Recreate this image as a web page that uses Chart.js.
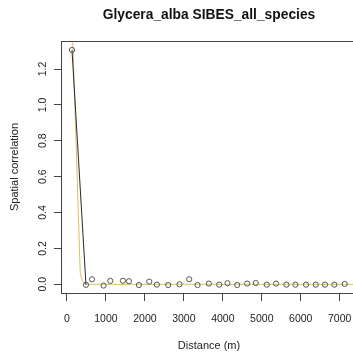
<!DOCTYPE html>
<html>
<head>
<meta charset="utf-8">
<script src="https://cdn.jsdelivr.net/npm/chart.js@4.4.1/dist/chart.umd.min.js"></script>
<style>
  html, body { margin: 0; padding: 0; background: #fff; overflow: hidden; }
  #wrap { width: 418px; height: 358px; }
</style>
</head>
<body>
<div id="wrap"><canvas id="corrCanvas"></canvas></div>
<script>
// observed correlation by distance class
const distances = [128, 487, 641, 940, 1111, 1435, 1590, 1846, 2111, 2308,
    2598, 2889, 3136, 3350, 3641, 3906, 4120, 4369, 4624, 4846,
    5128, 5367, 5632, 5863, 6136, 6385, 6623, 6863, 7128];
const correlation = [1.306, -0.003, 0.028, -0.007, 0.019, 0.020, 0.017, -0.004, 0.015, -0.002,
    -0.004, 0.000, 0.028, -0.004, 0.004, -0.002, 0.006, -0.004, 0.004, 0.007,
    -0.002, 0.004, -0.002, -0.002, -0.002, -0.002, -0.002, -0.002, 0.002];

// fitted curve (yellow)
const fitDist = [128, 340, 400, 470, 600, 7500];
const fitCorr = [1.50, 0.063, 0.015, 0.002, 0.0, 0.0];

const xTicks = [0, 1000, 2000, 3000, 4000, 5000, 6000, 7000];
const yTicks = [0.0, 0.2, 0.4, 0.6, 0.8, 1.0, 1.2];

const axisColor = '#444';
const tickFont = { family: 'Liberation Sans', size: 10.5 };

const boxPlugin = {
    id: 'box',
    afterDraw(chart) {
        const a = chart.chartArea;
        const c = chart.ctx;
        c.save();
        c.strokeStyle = axisColor;
        c.lineWidth = 1;
        c.strokeRect(Math.round(a.left) + 0.5, Math.round(a.top) + 0.5,
            Math.round(a.right - a.left), Math.round(a.bottom - a.top));
        c.restore();
    }
};

function renderChart() {
    const ctx = document.getElementById("corrCanvas").getContext("2d");
    new Chart(ctx, {
        type: 'scatter',
        data: {
            datasets: [{
                label: 'observed',
                data: distances.map((d, i) => ({ x: d, y: correlation[i] })),
                showLine: true,
                borderColor: '#555',
                borderWidth: 1,
                backgroundColor: 'rgba(0,0,0,0)',
                pointRadius: 2.6,
                pointBorderWidth: 1,
                pointBorderColor: '#555',
                segment: {
                    borderColor: s => s.p0DataIndex === 0 ? '#262636' : 'rgba(0,0,0,0)'
                }
            }, {
                label: 'fit',
                data: fitDist.map((d, i) => ({ x: d, y: fitCorr[i] })),
                showLine: true,
                borderColor: '#dfbc5e',
                borderWidth: 1,
                pointRadius: 0
            }]
        },
        options: {
            responsive: true,
            maintainAspectRatio: false,
            animation: false,
            layout: { padding: 0 },
            plugins: {
                legend: { display: false },
                tooltip: { enabled: false },
                title: {
                    display: true,
                    text: 'Glycera_alba SIBES_all_species',
                    color: '#111',
                    font: { family: 'Liberation Sans', size: 13.8, weight: 'bold' },
                    padding: { top: 6.5, bottom: 18 }
                }
            },
            scales: {
                x: {
                    type: 'linear',
                    min: -154,
                    max: 7444,
                    afterBuildTicks: s => { s.ticks = xTicks.map(v => ({ value: v })); },
                    afterFit: s => { s.height = 65; },
                    grid: { drawOnChartArea: false, tickLength: 8, color: axisColor },
                    border: { display: true, color: axisColor },
                    ticks: { color: '#222', font: tickFont, padding: 12, maxRotation: 0,
                        callback: v => String(v) },
                    title: { display: true, text: 'Distance (m)', color: '#222',
                        font: { family: 'Liberation Sans', size: 11 }, padding: { top: 0, bottom: 5 } }
                },
                y: {
                    type: 'linear',
                    min: -0.0485,
                    max: 1.356,
                    afterBuildTicks: s => { s.ticks = yTicks.map(v => ({ value: v })); },
                    afterFit: s => { s.width = 61; },
                    grid: { drawOnChartArea: false, tickLength: 7, color: axisColor },
                    border: { display: true, color: axisColor },
                    ticks: { color: '#222', font: tickFont, padding: 4, minRotation: 90, maxRotation: 90,
                        crossAlign: 'center', callback: v => v.toFixed(1) },
                    title: { display: true, text: 'Spatial correlation', color: '#222',
                        font: { family: 'Liberation Sans', size: 11 }, padding: { top: 8, bottom: 0 } }
                },
                // empty right margin, like the R plot region
                yRight: {
                    type: 'linear',
                    position: 'right',
                    display: true,
                    afterFit: s => { s.width = 61; },
                    grid: { display: false },
                    border: { display: false },
                    ticks: { display: false }
                }
            }
        },
        plugins: [boxPlugin]
    });
}

document.addEventListener("DOMContentLoaded", () => {
    renderChart();
});
</script>
</body>
</html>
